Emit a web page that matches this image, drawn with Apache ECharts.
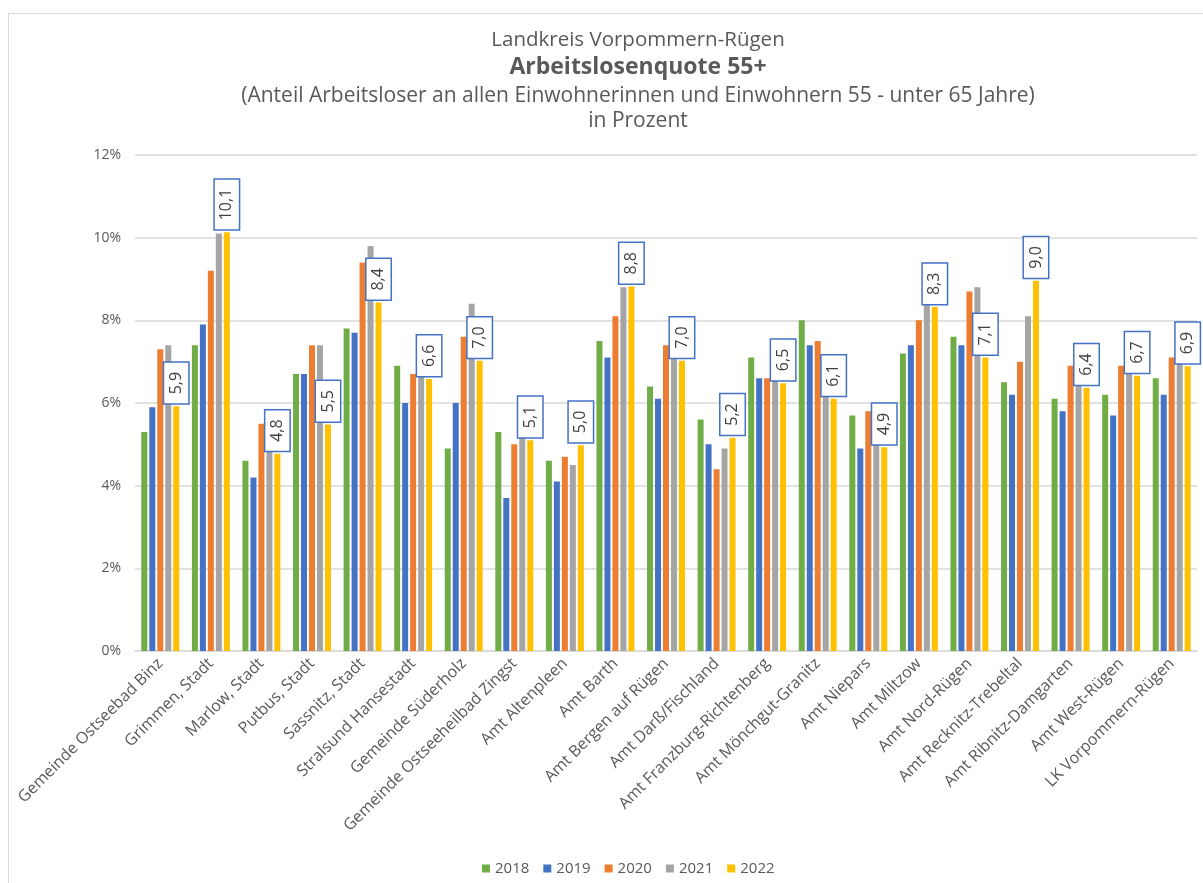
<!DOCTYPE html>
<html>
<head>
<meta charset="utf-8">
<title>Arbeitslosenquote 55+</title>
<script src="https://cdn.jsdelivr.net/npm/echarts@6/dist/echarts.min.js"></script>
<style>
html,body{margin:0;padding:0;background:#fff;overflow:hidden;}
#frame{position:absolute;left:8px;top:13px;width:1400px;height:1000px;border:1px solid #d9d9d9;}
#chart{position:absolute;left:0;top:0;width:1203px;height:883px;}
</style>
</head>
<body>
<div id="frame"></div>
<div id="chart"></div>
<script>
var categories=['Gemeinde Ostseebad Binz','Grimmen, Stadt','Marlow, Stadt','Putbus, Stadt','Sassnitz, Stadt',
	'Stralsund Hansestadt','Gemeinde Süderholz','Gemeinde Ostseeheilbad Zingst','Amt Altenpleen','Amt Barth',
	'Amt Bergen auf Rügen','Amt Darß/Fischland','Amt Franzburg-Richtenberg','Amt Mönchgut-Granitz','Amt Niepars',
	'Amt Miltzow','Amt Nord-Rügen','Amt Recknitz-Trebeltal','Amt Ribnitz-Damgarten','Amt West-Rügen','LK Vorpommern-Rügen'];
var years=['2018','2019','2020','2021','2022'];
var yTicks=[0,2,4,6,8,10,12];

var v2018=[5.3,7.4,4.6,6.7,7.8,6.9,4.9,5.3,4.6,7.5,6.4,5.6,7.1,8.0,5.7,7.2,7.6,6.5,6.1,6.2,6.6];
var v2019=[5.9,7.9,4.2,6.7,7.7,6.0,6.0,3.7,4.1,7.1,6.1,5.0,6.6,7.4,4.9,7.4,7.4,6.2,5.8,5.7,6.2];
var v2020=[7.3,9.2,5.5,7.4,9.4,6.7,7.6,5.0,4.7,8.1,7.4,4.4,6.6,7.5,5.8,8.0,8.7,7.0,6.9,6.9,7.1];
var v2021=[7.4,10.1,5.0,7.4,9.8,6.7,8.4,5.8,4.5,8.8,7.4,4.9,6.8,6.8,5.4,9.0,8.8,8.1,6.8,7.1,7.3];
var v2022=[5.92,10.13,4.77,5.48,8.43,6.58,7.02,5.1,4.98,8.82,7.02,5.16,6.48,6.1,4.93,8.32,7.1,8.96,6.37,6.66,6.89];

var colors=['#70AD47','#4472C4','#ED7D31','#A5A5A5','#FFC000'];
var font='Open Sans';

var values=[v2018,v2019,v2020,v2021,v2022];
var series=[];
for(var i=0;i<years.length;i++){
	var s={
		name:years[i],
		type:'bar',
		barWidth:6,
		barGap:'33%',
		itemStyle:{color:colors[i]},
		data:values[i]
	};
	if(i==4){
		// nur 2022 hat Beschriftung
		s.label={
			show:true,
			position:'top',
			distance:5,
			rotate:90,
			align:'left',
			verticalAlign:'middle',
			offset:[-2,0],
			fontFamily:font,
			fontSize:16,
			color:'#404040',
			backgroundColor:'#fff',
			borderColor:'#4472C4',
			borderWidth:1.5,
			padding:[5,9,3,9],
			formatter:function(p){
				return p.value.toFixed(1).replace('.',',');
			}
		};
	}
	series.push(s);
}

var option={
	textStyle:{fontFamily:font},
	title:[
		{text:'Landkreis Vorpommern-Rügen',left:633,top:25,textAlign:'center',
			textStyle:{fontFamily:font,fontSize:20.5,fontWeight:'normal',color:'#595959'}},
		{text:'Arbeitslosenquote 55+',left:633,top:51,textAlign:'center',
			textStyle:{fontFamily:font,fontSize:23,fontWeight:'bold',color:'#595959'}},
		{text:'(Anteil Arbeitsloser an allen Einwohnerinnen und Einwohnern 55 - unter 65 Jahre)',left:633,top:81,textAlign:'center',
			textStyle:{fontFamily:font,fontSize:21,fontWeight:'normal',color:'#595959'}},
		{text:'in Prozent',left:633,top:106,textAlign:'center',
			textStyle:{fontFamily:font,fontSize:21,fontWeight:'normal',color:'#595959'}}
	],
	legend:{
		data:years,
		left:477,
		top:856,
		itemWidth:8,
		itemHeight:8,
		itemGap:14,
		icon:'rect',
		textStyle:{fontFamily:font,fontSize:15,color:'#595959'}
	},
	grid:{left:135,right:6,top:155,bottom:232},
	xAxis:{
		type:'category',
		data:categories,
		axisLine:{lineStyle:{color:'#d9d9d9',width:1.5}},
		axisTick:{show:false},
		axisLabel:{interval:0,rotate:45,margin:10,padding:[14,0,0,0],fontFamily:font,fontSize:16,color:'#595959'}
	},
	yAxis:{
		type:'value',
		min:yTicks[0],
		max:yTicks[yTicks.length-1],
		interval:2,
		axisLine:{show:false},
		axisTick:{show:false},
		splitLine:{lineStyle:{color:'#d9d9d9',width:1.5}},
		axisLabel:{margin:14,formatter:'{value}%',fontFamily:font,fontSize:14,color:'#595959'}
	},
	series:series
};

var mychart=echarts.init(document.getElementById('chart'));
mychart.setOption(option);
</script>
</body>
</html>
